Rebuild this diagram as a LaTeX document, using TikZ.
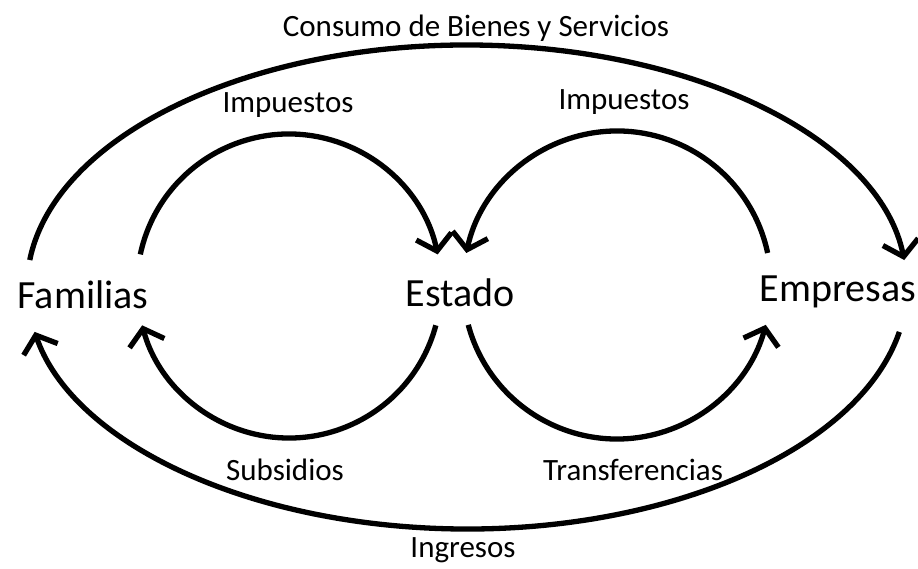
\documentclass[tikz,border=0pt]{standalone}
\usepackage{fontspec}
\setmainfont{Carlito}
\usetikzlibrary{arrows.meta,calc}
\begin{document}
\begin{tikzpicture}[x=1pt,y=1pt,
  flow/.style={line width=5.3pt,-{Straight Barb[length=15pt,width=36pt]}},
  big/.style={inner sep=0pt,font=\fontsize{40}{48}\selectfont},
  small/.style={inner sep=0pt,font=\fontsize{31}{37}\selectfont}]
\useasboundingbox (0,0) rectangle (918,569);
% centres
\coordinate (oc) at (467,282);
\coordinate (lc) at (289,283);
\coordinate (rc) at (617,284);
% labels
\node[big] (fam) at (83,274) {Familias};
\node[big] (est) at (460,276) {Estado};
\node[big] (emp) at (838,277) {Empresas};
\node[small] (cons) at (476,541) {Consumo de Bienes y Servicios};
\node[small] (impL) at (288,464) {Impuestos};
\node[small] (impR) at (624,467) {Impuestos};
\node[small] (sub) at (285,99) {Subsidios};
\node[small] (tra) at (633,99) {Transferencias};
\node[small] (ing) at (463,19) {Ingresos};
% arc start points
\coordinate (o1) at ($(oc)+(173.6:440 and 242)$);
\coordinate (o2) at ($(oc)+(-10.7:440 and 242)$);
\coordinate (l1) at ($(lc)+(168:152)$);
\coordinate (l2) at ($(lc)+(-15:152)$);
\coordinate (r1) at ($(rc)+(12:154)$);
\coordinate (r2) at ($(rc)+(-165:154)$);
% outer flows
\draw[flow] (o1) arc[start angle=173.6,end angle=6.4,x radius=440,y radius=242];
\draw[flow] (o2) arc[start angle=-10.7,end angle=-169.3,x radius=440,y radius=242];
% inner flows
\draw[flow] (l1) arc[start angle=168,end angle=12,radius=152];
\draw[flow] (l2) arc[start angle=-15,end angle=-165,radius=152];
\draw[flow] (r1) arc[start angle=12,end angle=168,radius=154];
\draw[flow] (r2) arc[start angle=-165,end angle=-15,radius=154];
\end{tikzpicture}
\end{document}
